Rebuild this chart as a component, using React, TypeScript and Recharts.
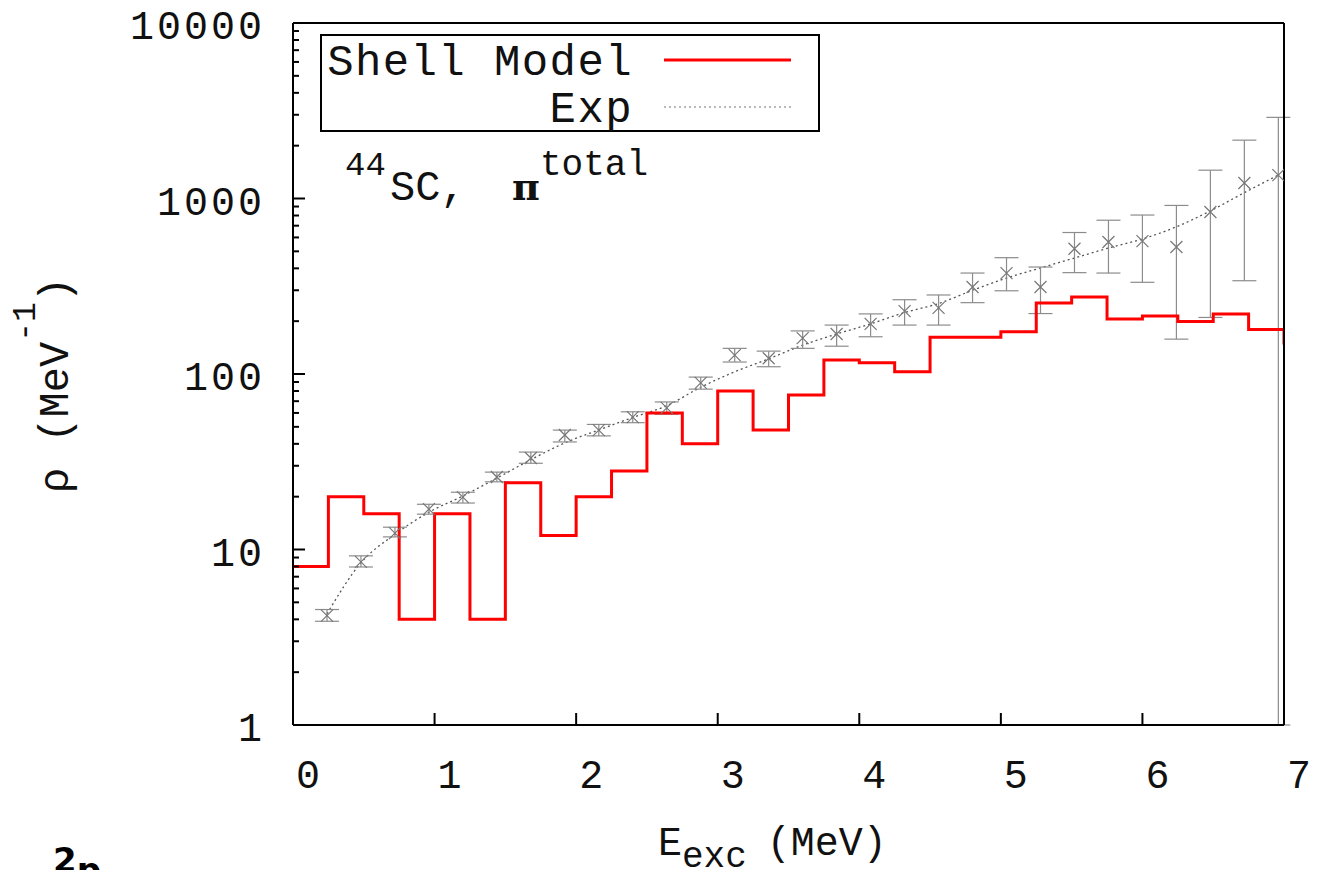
import React from "react";
import { ComposedChart, Line, Scatter, ErrorBar, XAxis, YAxis } from "recharts";

// shell model level density, 0.25 MeV bins (left edge, value)
const shellE = [
  0, 0.25, 0.5, 0.75, 1.0, 1.25, 1.5, 1.75, 2.0, 2.25, 2.5, 2.75, 3.0, 3.25, 3.5,
  3.75, 4.0, 4.25, 4.5, 4.75, 5.0, 5.25, 5.5, 5.75, 6.0, 6.25, 6.5, 6.75, 7.0, 7.25,
];
const shellRho = [
  8, 20, 16, 4, 16, 4, 24, 12, 20, 28, 60, 40, 80, 48, 76, 120, 116, 103, 162, 162,
  174, 254, 275, 206, 214, 199, 220, 179, 150, 150,
];

// experimental points with error bars
const expE = [
  0.24, 0.48, 0.72, 0.96, 1.2, 1.44, 1.68, 1.92, 2.16, 2.4, 2.64, 2.88, 3.12, 3.36,
  3.6, 3.84, 4.08, 4.32, 4.56, 4.8, 5.04, 5.28, 5.52, 5.76, 6.0, 6.24, 6.48, 6.72, 6.96,
];
const expRho = [
  4.2, 8.5, 12.4, 17.0, 19.9, 25.9, 33.2, 44.9, 47.9, 56.8, 64.1, 89, 128, 123,
  160, 169, 193, 228, 238, 313, 376, 313, 517, 565, 572, 529, 838, 1225, 1360,
];
const expLow = [
  3.9, 7.95, 11.8, 15.9, 18.4, 24.3, 31.0, 41.0, 44.4, 52.8, 59, 82, 117, 110,
  140, 144, 163, 190, 190, 255, 298, 221, 378, 376, 333, 158, 210, 340, 1,
];
const expHigh = [
  4.55, 9.2, 13.4, 18.1, 21.2, 27.6, 35.9, 47.9, 51.6, 60.9, 69.3, 96, 140, 135,
  176, 190, 220, 265, 282, 376, 460, 407, 640, 752, 805, 913, 1450, 2150, 2900,
];

// dotted fit curve
const fitE = [
  0.24, 0.48, 0.72, 0.96, 1.2, 1.44, 1.68, 1.92, 2.16, 2.4, 2.64, 2.88, 3.12, 3.36,
  3.6, 3.84, 4.08, 4.32, 4.56, 4.8, 5.04, 5.28, 5.52, 5.76, 6.0, 6.24, 6.48, 6.72, 6.96,
];
const fitRho = [
  4.3, 8.4, 12.2, 16.3, 20.2, 25.5, 32.5, 40.5, 48, 56.5, 66, 84, 103, 122,
  146, 169, 193, 224, 252, 300, 352, 402, 458, 522, 588, 690, 850, 1080, 1360,
];

const xTicks = [0, 1, 2, 3, 4, 5, 6, 7];
const yMajorTicks = [1, 10, 100, 1000, 10000];

const shellData = shellE.map((x, i) => ({ x, y: shellRho[i] }));
const expData = expE.map((x, i) => ({
  x,
  y: expRho[i],
  err: [expRho[i] - expLow[i], expHigh[i] - expRho[i]],
}));
const fitData = fitE.map((x, i) => ({ x, y: fitRho[i] }));

const yTicks: number[] = [];
yMajorTicks.forEach((t, i) => {
  yTicks.push(t);
  if (i < yMajorTicks.length - 1) for (let m = 2; m <= 9; m++) yTicks.push(t * m);
});

const FONT = "'Liberation Mono', 'DejaVu Sans Mono', monospace";

const LeftTick = ({ x, y, payload }: any) => {
  const major = yMajorTicks.includes(payload.value);
  return (
    <g>
      <line x1={x} x2={x + (major ? 12 : 6)} y1={y} y2={y} stroke="#000" strokeWidth={2} />
      {major && (
        <text x={x - 28} y={y + 16} textAnchor="end" fontFamily={FONT} fontSize={40} letterSpacing={3} fill="#111">
          {payload.value}
        </text>
      )}
    </g>
  );
};

const RightTick = ({ x, y, payload }: any) => {
  const major = yMajorTicks.includes(payload.value);
  return <line x1={x} x2={x - (major ? 12 : 6)} y1={y} y2={y} stroke="#000" strokeWidth={2} />;
};

const BottomTick = ({ x, y, payload }: any) => (
  <g>
    <line x1={x} x2={x} y1={y} y2={y - 12} stroke="#000" strokeWidth={2} />
    <text x={x + 15} y={y + 63} textAnchor="middle" fontFamily={FONT} fontSize={40} fill="#111">
      {payload.value}
    </text>
  </g>
);

const TopTick = ({ x, y }: any) => <line x1={x} x2={x} y1={y} y2={y + 12} stroke="#000" strokeWidth={2} />;

const XMark = (p: any) => {
  const { cx, cy } = p;
  const s = 6;
  return (
    <path
      d={`M${cx - s},${cy - s}L${cx + s},${cy + s}M${cx - s},${cy + s}L${cx + s},${cy - s}`}
      stroke="#777"
      strokeWidth={1.2}
      fill="none"
    />
  );
};

const axisLine = { stroke: "#000", strokeWidth: 2 };

export default function App() {
  return (
    <div style={{ position: "absolute", left: 0, top: 0, width: 1323, height: 870, overflow: "hidden", background: "#fff" }}>
      <ComposedChart width={1323} height={870} margin={{ top: 0, right: 0, bottom: 0, left: 0 }}>
        <XAxis
          type="number"
          dataKey="x"
          domain={[0, 7]}
          ticks={xTicks}
          interval={0}
          allowDataOverflow
          height={145}
          tickSize={0}
          tickMargin={0}
          tickLine={false}
          axisLine={axisLine}
          tick={<BottomTick />}
        />
        <XAxis
          xAxisId="top"
          orientation="top"
          type="number"
          domain={[0, 7]}
          ticks={xTicks}
          interval={0}
          height={23}
          tickSize={0}
          tickMargin={0}
          tickLine={false}
          axisLine={axisLine}
          tick={<TopTick />}
        />
        <YAxis
          scale="log"
          domain={[1, 10000]}
          ticks={yTicks}
          interval={0}
          allowDataOverflow
          width={293}
          tickSize={0}
          tickMargin={0}
          tickLine={false}
          axisLine={axisLine}
          tick={<LeftTick />}
        />
        <YAxis
          yAxisId="right"
          orientation="right"
          scale="log"
          domain={[1, 10000]}
          ticks={yTicks}
          interval={0}
          width={39}
          tickSize={0}
          tickMargin={0}
          tickLine={false}
          axisLine={axisLine}
          tick={<RightTick />}
        />
        <Line
          data={fitData}
          dataKey="y"
          type="monotone"
          stroke="#555"
          strokeWidth={1.3}
          strokeDasharray="2 3"
          dot={false}
          activeDot={false}
          isAnimationActive={false}
        />
        <Scatter data={expData} dataKey="y" shape={<XMark />} isAnimationActive={false}>
          <ErrorBar dataKey="err" direction="y" width={12} stroke="#8c8c8c" strokeWidth={1.2} isAnimationActive={false} />
        </Scatter>
        <Line
          data={shellData}
          dataKey="y"
          type="stepAfter"
          stroke="#ff0000"
          strokeWidth={3}
          dot={false}
          activeDot={false}
          isAnimationActive={false}
        />
      </ComposedChart>
      <svg width={1323} height={870} style={{ position: "absolute", left: 0, top: 0, pointerEvents: "none" }}>
        {/* legend */}
        <rect x={321} y={35} width={498} height={96} fill="#fff" stroke="#000" strokeWidth={2} />
        <text x={633} y={75} textAnchor="end" fontFamily={FONT} fontSize={44} letterSpacing={1.4} fill="#111">
          Shell Model
        </text>
        <line x1={664} x2={791} y1={60} y2={60} stroke="#ff0000" strokeWidth={3} />
        <text x={633} y={122} textAnchor="end" fontFamily={FONT} fontSize={44} letterSpacing={1.4} fill="#111">
          Exp
        </text>
        <line x1={664} x2={791} y1={107} y2={107} stroke="#777" strokeWidth={1.2} strokeDasharray="2 3" />
        {/* annotation */}
        <text x={345} y={175} fontFamily={FONT} fontSize={34} fill="#111">44</text>
        <text x={390} y={200} fontFamily={FONT} fontSize={42} fill="#111">SC,</text>
        <text x={512} y={200} fontFamily="'DejaVu Serif', serif" fontWeight="bold" fontSize={38} fill="#111">π</text>
        <text x={540} y={175} fontFamily={FONT} fontSize={36} fill="#111">total</text>
        {/* axis titles */}
        <text x={658} y={855} fontFamily={FONT} fontSize={40} fill="#111">
          E<tspan fontSize={36} dy={12}>exc</tspan>
          <tspan dx={20} dy={-12}>(MeV)</tspan>
        </text>
        <text x={68} y={493} transform="rotate(-90 68 493)" fontFamily={FONT} fontSize={42} fill="#111">
          ρ (MeV<tspan fontSize={33} dy={-33}>-1</tspan>
          <tspan dy={33}>)</tspan>
        </text>
        {/* clipped fragment of the next panel */}
        <text x={53} y={872} fontFamily="'DejaVu Sans', sans-serif" fontWeight="bold" fontSize={34} fill="#000">
          2<tspan dy={10}>p</tspan>
        </text>
      </svg>
    </div>
  );
}
